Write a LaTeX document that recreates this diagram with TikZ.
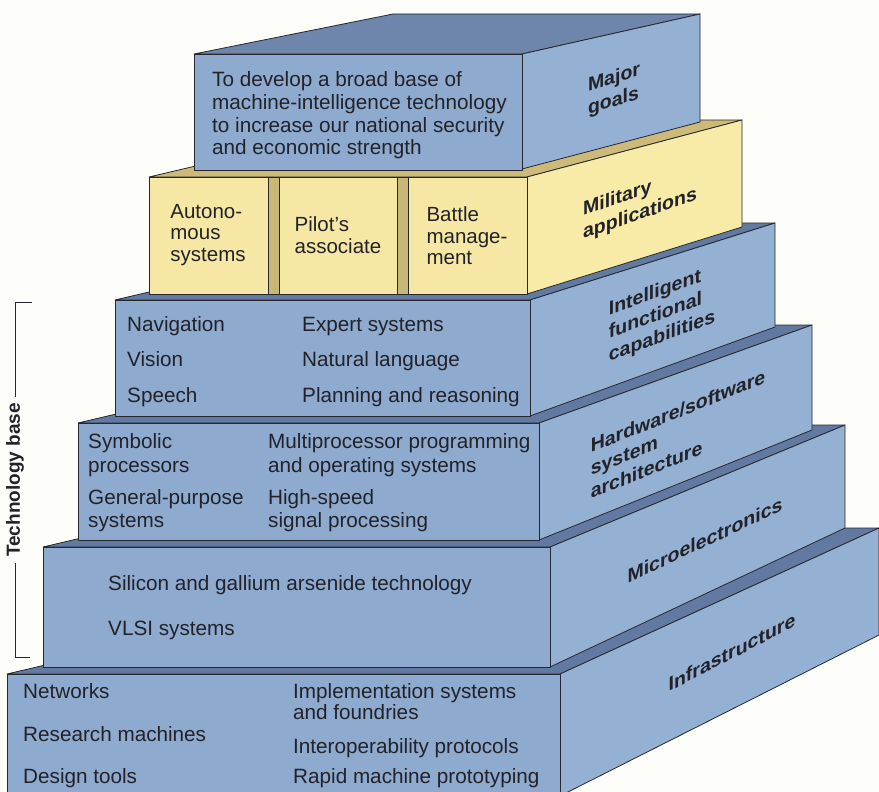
\documentclass[tikz,border=0pt]{standalone}
\usepackage{fontspec}
\setmainfont{Liberation Sans}
\definecolor{bg}{RGB}{253,253,249}
\definecolor{edge}{RGB}{38,40,48}
\definecolor{txt}{RGB}{34,34,40}
\definecolor{bfront}{RGB}{142,170,207}
\definecolor{bside}{RGB}{148,176,211}
\definecolor{btop}{RGB}{98,122,162}
\definecolor{mtop}{RGB}{110,134,172}
\definecolor{yfront}{RGB}{246,232,164}
\definecolor{yside}{RGB}{248,235,168}
\definecolor{ygap}{RGB}{200,183,118}
\definecolor{ytop}{RGB}{206,186,120}
\begin{document}
\begin{tikzpicture}[x=1pt,y=-1pt,
  face/.style={draw=edge,line width=0.8pt,line join=round},
  front/.style={face,fill=bfront},
  side/.style={face,fill=bside},
  topface/.style={face,fill=btop},
  ytopface/.style={face,fill=ytop},
  ysideface/.style={face,fill=yside},
  yfrontface/.style={face,fill=yfront},
  ygapface/.style={face,fill=ygap},
  ftxt/.style={anchor=base west,font=\fontsize{20.7}{22.5}\selectfont,text=txt,inner sep=0pt},
  boxt/.style={font=\fontsize{20.5}{21.5}\selectfont,align=left,text=txt,inner sep=0pt},
  lbl/.style={font=\bfseries\fontsize{19.5}{23}\selectfont,align=left,text=txt,inner sep=0pt},
  brk/.style={draw=edge,line width=1pt}]
\fill[bg] (0,0) rectangle (879,792);
\useasboundingbox (0,0) rectangle (879,792);
\begin{scope}
\clip (0,0) rectangle (879,792);
% Infrastructure
\path[topface] (7,674) -- (560,674) -- (879,528) -- (628,528) -- cycle;
\path[side] (560,674) -- (879,528) -- (879,635) -- (560,796) -- cycle;
\path[front] (7,674) rectangle (560,800);
% Microelectronics
\path[topface] (43,547) -- (550,547) -- (845,425) -- (562,425) -- cycle;
\path[side] (550,547) -- (845,425) -- (845,528) -- (550,667) -- cycle;
\path[front] (43,547) rectangle (550,667);
% Hardware/software
\path[topface] (78,423) -- (539,423) -- (812,325) -- (495,325) -- cycle;
\path[side] (539,423) -- (812,325) -- (812,430) -- (539,540) -- cycle;
\path[front] (78,423) rectangle (539,540);
% Intelligent functional capabilities
\path[topface] (115,300) -- (530,300) -- (775,223) -- (443,223) -- cycle;
\path[side] (530,300) -- (775,223) -- (775,327) -- (530,416) -- cycle;
\path[front] (115,300) rectangle (530,416);
% Military applications
\path[ytopface] (149,177) -- (527,177) -- (742,120) -- (391,120) -- cycle;
\path[ysideface] (527,177) -- (742,120) -- (742,227) -- (527,294) -- cycle;
\path[ygapface] (149,177) rectangle (527,294);
\path[yfrontface] (149,177) rectangle (268,294);
\path[yfrontface] (279,177) rectangle (397,294);
\path[yfrontface] (408,177) rectangle (527,294);
% Major goals
\path[face,fill=mtop] (194,54) -- (522,54) -- (700,14) -- (393,14) -- cycle;
\path[side] (522,54) -- (700,14) -- (700,122) -- (522,169) -- cycle;
\path[front] (194,54) rectangle (522,170);
\end{scope}

% front texts
\node[ftxt] (g1) at (212,87) {To develop a broad base of};
\node[ftxt] (g2) at (212,110) {machine-intelligence technology};
\node[ftxt] (g3) at (212,132) {to increase our national security};
\node[ftxt] (g4) at (212,154) {and economic strength};

\node[boxt] (m1) at (208,235) {Autono-\\mous\\systems};
\node[boxt] (m2) at (338,235) {Pilot's\\associate};
\node[boxt] (m3) at (467,236) {Battle\\manage-\\ment};

\node[ftxt] (i1) at (127,331) {Navigation};
\node[ftxt] (i2) at (127,366) {Vision};
\node[ftxt] (i3) at (127,402) {Speech};
\node[ftxt] (i4) at (302,331) {Expert systems};
\node[ftxt] (i5) at (302,366) {Natural language};
\node[ftxt] (i6) at (302,402) {Planning and reasoning};

\node[ftxt] (h1) at (88,448) {Symbolic};
\node[ftxt] (h2) at (88,472) {processors};
\node[ftxt] (h3) at (88,504) {General-purpose};
\node[ftxt] (h4) at (88,527) {systems};
\node[ftxt] (h5) at (268,448) {Multiprocessor programming};
\node[ftxt] (h6) at (268,472) {and operating systems};
\node[ftxt] (h7) at (268,504) {High-speed};
\node[ftxt] (h8) at (268,527) {signal processing};

\node[ftxt] (e1) at (108,590) {Silicon and gallium arsenide technology};
\node[ftxt] (e2) at (108,635) {VLSI systems};

\node[ftxt] (f1) at (23,698) {Networks};
\node[ftxt] (f2) at (23,741) {Research machines};
\node[ftxt] (f3) at (23,783) {Design tools};
\node[ftxt] (f4) at (293,698) {Implementation systems};
\node[ftxt] (f5) at (293,719) {and foundries};
\node[ftxt] (f6) at (293,753) {Interoperability protocols};
\node[ftxt] (f7) at (293,783) {Rapid machine prototyping};

% side labels
\node[lbl,yslant=0.3] (lmaj) at (614,90) {Major\\goals};
\node[lbl,yslant=0.34] (lmil) at (640,203) {Military\\applications};
\node[lbl,yslant=0.37] (lint) at (662,314) {Intelligent\\functional\\capabilities};
\node[lbl,yslant=0.4] (lhw) at (678,434) {Hardware/software\\system\\architecture};
\node[lbl,yslant=0.47] (lmic) at (705,540) {Microelectronics};
\node[lbl,yslant=0.52] (linf) at (732,652) {Infrastructure};

% technology base bracket
\node[font=\bfseries\fontsize{19}{21}\selectfont,text=txt,rotate=90,inner sep=6pt] (tb) at (15,480) {Technology base};
\coordinate (bt) at (32,302);
\coordinate (bb) at (30,657);
\draw[brk] (bt) -- (15,302) -- (tb.east);
\draw[brk] (tb.west) -- (15,657) -- (bb);
\end{tikzpicture}
\end{document}
